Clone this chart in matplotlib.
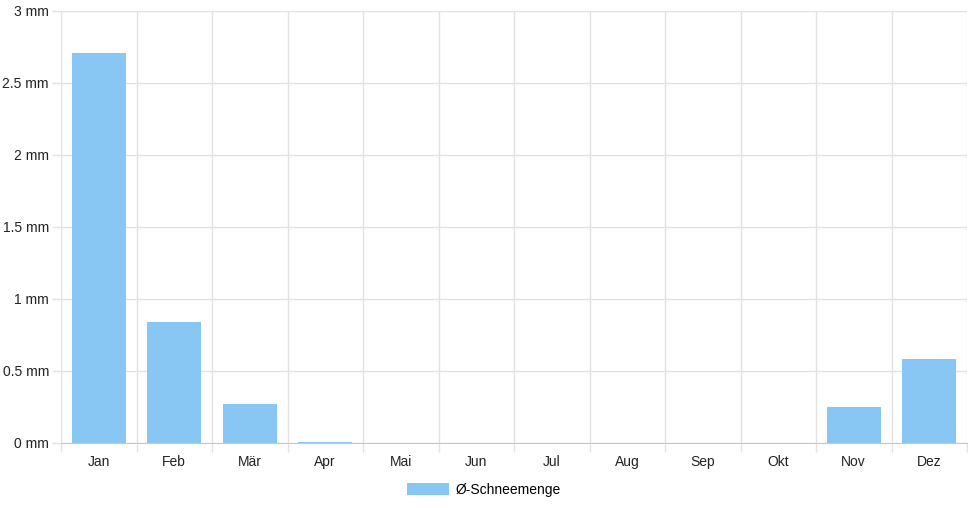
import numpy as np
import matplotlib.pyplot as plt
from matplotlib.patches import Patch

months = ['Jan', 'Feb', 'Mär', 'Apr', 'Mai', 'Jun', 'Jul', 'Aug', 'Sep', 'Okt', 'Nov', 'Dez']
snow_mm = [2.71, 0.84, 0.27, 0.01, 0, 0, 0, 0, 0, 0, 0.25, 0.58]
y_ticks = [0, 0.5, 1, 1.5, 2, 2.5, 3]
y_labels = ['0 mm', '0.5 mm', '1 mm', '1.5 mm', '2 mm', '2.5 mm', '3 mm']
series_name = 'Ø-Schneemenge'

plt.rcParams['font.family'] = ['Liberation Sans', 'DejaVu Sans']

bar_color = '#88c6f3'
grid_color = '#e2e2e2'

fig = plt.figure(figsize=(9.68, 5.08), dpi=100)
ax = fig.add_axes([61 / 968, 1 - 443 / 508, 906 / 968, 432 / 508])

x = np.arange(len(months))
ax.bar(x, snow_mm, width=0.71, color=bar_color, linewidth=0, zorder=3)

ax.set_xlim(-0.5, len(months) - 0.5)
ax.set_ylim(0, 3)

# month labels in the middle, grid lines between the months
ax.set_xticks(x)
ax.set_xticklabels(months, fontsize=10, color='#222222')
ax.set_xticks(np.arange(-0.5, len(months)), minor=True)
ax.tick_params(axis='x', which='major', length=0, pad=8.5)
ax.tick_params(axis='x', which='minor', length=6.5, color=grid_color, width=1)

ax.set_yticks(y_ticks)
ax.set_yticklabels(y_labels, fontsize=10, color='#222222')
ax.tick_params(axis='y', length=6.5, color=grid_color, width=1, pad=2.2)

ax.grid(True, axis='y', color=grid_color, linewidth=1, zorder=0)
ax.grid(True, axis='x', which='minor', color=grid_color, linewidth=1, zorder=0)

for side in ['top', 'right']:
    ax.spines[side].set_visible(False)
ax.spines['left'].set_color(grid_color)
ax.spines['bottom'].set_color('#c8c8c8')
ax.spines['bottom'].set_zorder(4)

handle = Patch(facecolor=bar_color, label=series_name)
fig.legend(handles=[handle], loc='center', bbox_to_anchor=(484 / 968, 1 - 490 / 508),
           frameon=False, fontsize=10, handlelength=3.0, handleheight=1.0, handletextpad=0.5)

fig.savefig('out.png', dpi=100)
